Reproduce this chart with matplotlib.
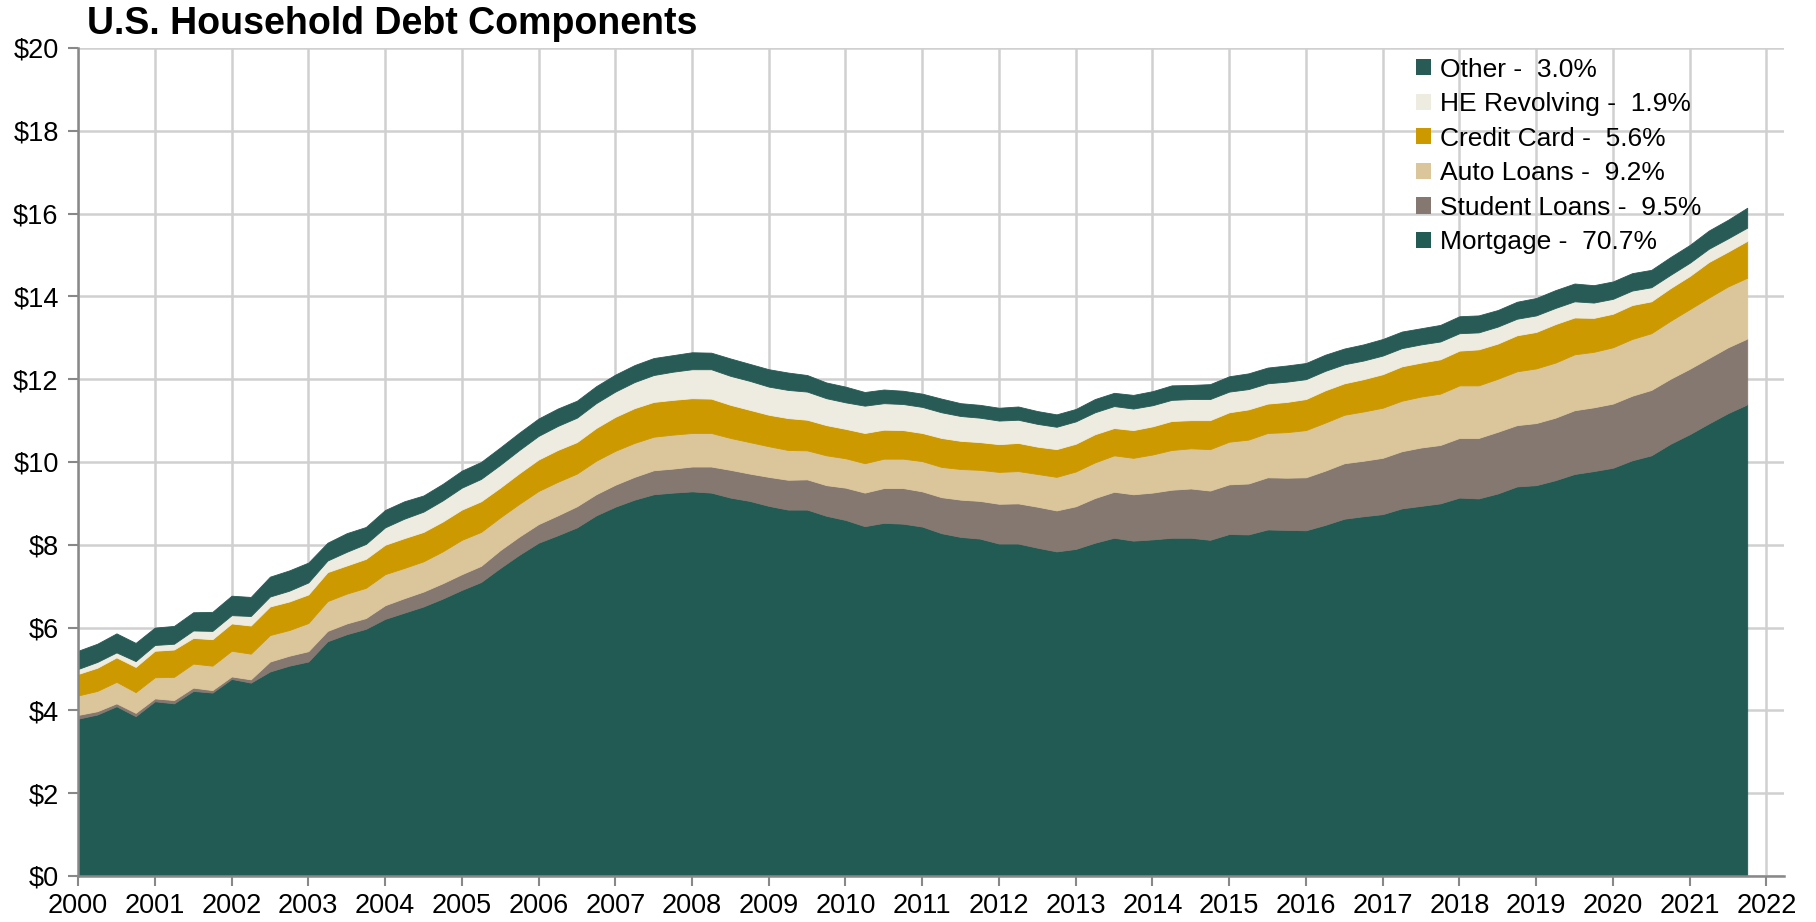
import matplotlib.pyplot as plt
import numpy as np
from matplotlib.patches import Patch

plt.rcParams["font.family"] = ["Liberation Sans", "DejaVu Sans"]

# quarterly balances, $ trillions (first point plotted at 2000, one point per quarter)
mortgage = [3.80, 3.90, 4.10, 3.86, 4.22, 4.17, 4.47, 4.43, 4.76, 4.67,
            4.94, 5.08, 5.18, 5.67, 5.84, 5.97, 6.21, 6.36, 6.51, 6.70,
            6.91, 7.10, 7.44, 7.76, 8.05, 8.23, 8.42, 8.71, 8.92, 9.09,
            9.22, 9.26, 9.29, 9.26, 9.14, 9.06, 8.94, 8.85, 8.85, 8.70,
            8.60, 8.45, 8.53, 8.51, 8.44, 8.28, 8.19, 8.15, 8.03, 8.03,
            7.93, 7.84, 7.90, 8.05, 8.17, 8.10, 8.13, 8.17, 8.17, 8.12,
            8.26, 8.25, 8.37, 8.36, 8.35, 8.48, 8.63, 8.69, 8.74, 8.88,
            8.94, 9.00, 9.14, 9.12, 9.24, 9.41, 9.44, 9.56, 9.71, 9.78,
            9.86, 10.04, 10.16, 10.44, 10.67, 10.93, 11.18, 11.39]
student = [0.09, 0.08, 0.07, 0.08, 0.07, 0.08, 0.08, 0.06, 0.06, 0.08,
           0.24, 0.24, 0.25, 0.25, 0.26, 0.26, 0.33, 0.35, 0.36, 0.37,
           0.38, 0.39, 0.43, 0.44, 0.45, 0.48, 0.51, 0.51, 0.53, 0.55,
           0.58, 0.58, 0.60, 0.63, 0.67, 0.66, 0.70, 0.72, 0.73, 0.74,
           0.78, 0.81, 0.84, 0.86, 0.85, 0.87, 0.90, 0.91, 0.96, 0.97,
           0.99, 0.99, 1.03, 1.08, 1.11, 1.12, 1.13, 1.16, 1.19, 1.19,
           1.20, 1.23, 1.26, 1.26, 1.28, 1.31, 1.34, 1.34, 1.36, 1.38,
           1.41, 1.41, 1.44, 1.46, 1.49, 1.48, 1.50, 1.51, 1.54, 1.54,
           1.55, 1.56, 1.58, 1.57, 1.58, 1.58, 1.59, 1.59]
auto = [0.47, 0.49, 0.52, 0.50, 0.51, 0.56, 0.58, 0.59, 0.62, 0.62,
        0.64, 0.62, 0.68, 0.72, 0.72, 0.73, 0.75, 0.73, 0.73, 0.77,
        0.83, 0.82, 0.79, 0.79, 0.80, 0.81, 0.79, 0.81, 0.82, 0.82,
        0.81, 0.82, 0.81, 0.81, 0.77, 0.76, 0.74, 0.72, 0.70, 0.72,
        0.71, 0.71, 0.71, 0.71, 0.73, 0.73, 0.74, 0.75, 0.77, 0.78,
        0.79, 0.81, 0.84, 0.86, 0.88, 0.88, 0.92, 0.96, 0.97, 1.00,
        1.03, 1.06, 1.07, 1.10, 1.14, 1.16, 1.17, 1.19, 1.21, 1.22,
        1.23, 1.24, 1.27, 1.27, 1.28, 1.30, 1.32, 1.33, 1.35, 1.34,
        1.36, 1.37, 1.37, 1.40, 1.44, 1.46, 1.47, 1.47]
credit_card = [0.52, 0.56, 0.59, 0.61, 0.64, 0.66, 0.62, 0.64, 0.66, 0.68,
               0.69, 0.69, 0.69, 0.70, 0.68, 0.70, 0.71, 0.72, 0.71, 0.72,
               0.73, 0.74, 0.72, 0.74, 0.76, 0.77, 0.76, 0.79, 0.82, 0.84,
               0.84, 0.84, 0.84, 0.83, 0.80, 0.78, 0.76, 0.77, 0.74, 0.73,
               0.71, 0.73, 0.70, 0.69, 0.68, 0.70, 0.68, 0.67, 0.67, 0.68,
               0.66, 0.67, 0.67, 0.68, 0.66, 0.67, 0.68, 0.70, 0.68, 0.70,
               0.71, 0.73, 0.71, 0.73, 0.75, 0.78, 0.76, 0.78, 0.81, 0.83,
               0.82, 0.83, 0.84, 0.87, 0.85, 0.87, 0.88, 0.93, 0.89, 0.82,
               0.81, 0.82, 0.77, 0.79, 0.80, 0.86, 0.84, 0.89]
he_revolving = [0.12, 0.14, 0.12, 0.14, 0.14, 0.14, 0.18, 0.20, 0.20, 0.23,
                0.24, 0.26, 0.29, 0.28, 0.33, 0.36, 0.42, 0.47, 0.49, 0.51,
                0.53, 0.54, 0.55, 0.56, 0.57, 0.58, 0.59, 0.60, 0.61, 0.63,
                0.65, 0.68, 0.70, 0.71, 0.70, 0.70, 0.68, 0.68, 0.68, 0.65,
                0.64, 0.66, 0.64, 0.63, 0.63, 0.62, 0.60, 0.59, 0.57, 0.56,
                0.55, 0.54, 0.54, 0.53, 0.53, 0.52, 0.51, 0.51, 0.51, 0.51,
                0.50, 0.49, 0.49, 0.49, 0.48, 0.47, 0.46, 0.45, 0.45, 0.44,
                0.44, 0.43, 0.42, 0.41, 0.41, 0.40, 0.40, 0.39, 0.39, 0.37,
                0.36, 0.35, 0.34, 0.32, 0.32, 0.32, 0.32, 0.32]
other = [0.44, 0.44, 0.46, 0.44, 0.42, 0.43, 0.44, 0.46, 0.47, 0.46,
         0.48, 0.49, 0.48, 0.43, 0.45, 0.41, 0.42, 0.42, 0.39, 0.40,
         0.41, 0.41, 0.42, 0.42, 0.42, 0.42, 0.41, 0.41, 0.41, 0.41,
         0.41, 0.40, 0.41, 0.40, 0.42, 0.41, 0.42, 0.42, 0.40, 0.38,
         0.38, 0.33, 0.33, 0.32, 0.32, 0.33, 0.31, 0.31, 0.31, 0.32,
         0.31, 0.30, 0.30, 0.32, 0.32, 0.33, 0.34, 0.35, 0.34, 0.36,
         0.37, 0.38, 0.38, 0.39, 0.39, 0.39, 0.38, 0.39, 0.40, 0.40,
         0.39, 0.40, 0.41, 0.41, 0.40, 0.41, 0.42, 0.43, 0.43, 0.42,
         0.42, 0.42, 0.42, 0.43, 0.43, 0.44, 0.45, 0.48]

labels = ["Mortgage -  70.7%", "Student Loans -  9.5%", "Auto Loans -  9.2%",
          "Credit Card -  5.6%", "HE Revolving -  1.9%", "Other -  3.0%"]
colors = ["#215B53", "#857870", "#DBC69C", "#CC9900", "#EEEBE0", "#285B56"]
year_ticks = list(range(2000, 2023))
dollar_ticks = list(range(0, 21, 2))

x = 2000 + np.arange(len(mortgage)) / 4.0
series = [mortgage, student, auto, credit_card, he_revolving, other]

fig = plt.figure(figsize=(18.16, 9.22), dpi=100)
ax = fig.add_axes([0.043, 0.0499, 0.9394, 0.8981])

polys = ax.stackplot(x, *series, colors=colors, linewidth=0.6)
for p, c in zip(polys, colors):
    p.set_edgecolor(c)

ax.set_xlim(2000, 2022.23)
ax.set_ylim(0, 20)
ax.set_xticks(year_ticks)
ax.set_yticks(dollar_ticks)
ax.set_yticklabels([f"${v}" for v in dollar_ticks])
ax.set_axisbelow(True)
ax.grid(True, color="#D0D0D0", linewidth=1.8)
for side in ["top", "right"]:
    ax.spines[side].set_visible(False)
for side in ["left", "bottom"]:
    ax.spines[side].set_color("#888888")
    ax.spines[side].set_linewidth(1.8)
ax.tick_params(axis="both", colors="#888888", labelcolor="black",
               labelsize=19.5, length=7, width=1.5)
ax.tick_params(axis="x", pad=5)
ax.tick_params(axis="y", pad=7)

fig.text(0.048, 0.974, "U.S. Household Debt Components", fontsize=27,
         fontweight="bold", va="center", ha="left")

handles = [Patch(facecolor=c, edgecolor="none") for c in colors]
ax.legend(handles[::-1], labels[::-1], loc="upper left",
          bbox_to_anchor=(0.774, 0.949), bbox_transform=fig.transFigure,
          frameon=False, fontsize=19, handlelength=0.57, handleheight=0.57,
          handletextpad=0.33, labelspacing=0.40, borderaxespad=0)

fig.savefig("out.png", dpi=100)
